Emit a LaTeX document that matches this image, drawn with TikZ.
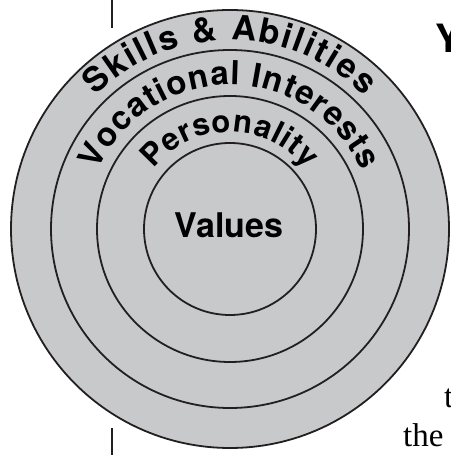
\documentclass[tikz,border=0pt]{standalone}
\usepackage{fontspec}
\setmainfont{TeX Gyre Heros}
\newfontfamily\pageserif{Liberation Serif}

\definecolor{ringgray}{RGB}{200,201,203}
\definecolor{ink}{RGB}{35,31,32}
\newcommand\ringfont{\bfseries\fontsize{34}{34}\selectfont}
\newcommand\midfont{\bfseries\fontsize{33}{33}\selectfont}
\newcommand\innerfont{\bfseries\fontsize{31}{31}\selectfont}

% set a word letter by letter over the top of a circle
% #1 centre, #2 baseline radius, #3 tracking (pt), #4 font, #5 letters
\newdimen\letterw
\newcommand\measureletter[2]{%
  \pgfinterruptpicture\setbox0=\hbox{#1#2}\global\letterw=\wd0 \endpgfinterruptpicture}
\newcommand\arclabel[5]{%
  \gdef\arcrun{0}%
  \foreach \letr in {#5}{%
    \measureletter{#4}{\letr}%
    \pgfmathsetmacro\arcnext{\arcrun+\letterw+#3}%
    \xdef\arcrun{\arcnext}%
  }%
  \pgfmathsetmacro\arctotal{\arcrun-#3}%
  \xdef\arctotal{\arctotal}%
  \gdef\arcrun{0}%
  \foreach \letr in {#5}{%
    \measureletter{#4}{\letr}%
    \pgfmathsetmacro\arcang{90+deg((\arctotal/2-\arcrun-\letterw/2)/#2)}%
    \node[font=#4, anchor=base, inner sep=0, rotate=\arcang-90]
      at ([shift={(#1)}]\arcang:#2) {\letr};
    \pgfmathsetmacro\arcnext{\arcrun+\letterw+#3}%
    \xdef\arcrun{\arcnext}%
  }%
}

\begin{document}
\begin{tikzpicture}[x=1pt, y=1pt,
    ring/.style={draw=ink, fill=ringgray, line width=1.8pt},
    rule/.style={draw=ink, line width=1.4pt}
  ]
  \useasboundingbox (0,0) rectangle (450,455);
  \clip (0,0) rectangle (450,455);

  %% -- rings, outside in -------------------------------------------
  \coordinate (c) at (230,226);
  \draw[ring] (c) circle[radius=219];
  \draw[ring] (c) circle[radius=179];
  \draw[ring] (c) circle[radius=133];
  \draw[ring] (c) circle[radius=86];

  %% -- labels bent along the rings ---------------------------------
  \arclabel{c}{189}{2}{\ringfont}{S,k,i,l,l,s,~,\&,~,A,b,i,l,i,t,i,e,s}
  \arclabel{c}{144}{1}{\midfont}{V,o,c,a,t,i,o,n,a,l,~,I,n,t,e,r,e,s,t,s}
  \arclabel{c}{97}{0.8}{\innerfont}{P,e,r,s,o,n,a,l,i,t,y}
  \node[font=\bfseries\fontsize{34}{34}\selectfont, anchor=base, inner sep=0]
    (values) at (229,217) {Values};

  %% -- page bits around the figure ---------------------------------
  \draw[rule] (112,455) -- (112,427);
  \draw[rule] (112,27) -- (112,0);
  \node[font=\bfseries\fontsize{39}{39}\selectfont, anchor=base west, inner sep=0]
    (ycap) at (435,402) {Y};
  \node[font=\pageserif\fontsize{33}{33}\selectfont, anchor=base west, inner sep=0]
    (tline) at (444,47) {t};
  \node[font=\pageserif\fontsize{33}{33}\selectfont, anchor=base west, inner sep=0]
    (theline) at (403,9) {the};
\end{tikzpicture}
\end{document}
